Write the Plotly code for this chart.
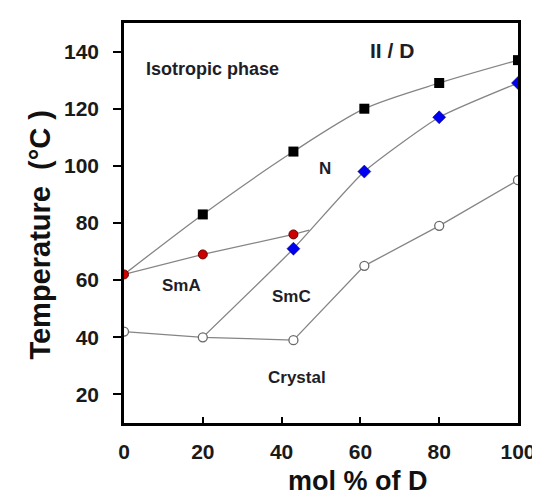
import plotly.graph_objects as go

# ---- data ----
mol_iso = [20, 43, 61, 80, 100]           # isotropic / nematic transition (black squares)
temp_iso = [83, 105, 120, 129, 137]

mol_sma = [0, 20, 43]                      # SmA transition (red circles)
temp_sma = [62, 69, 76]
sma_end_x, sma_end_y = 47, 77.5            # where the SmA boundary meets the SmC boundary

mol_smc = [43, 61, 80, 100]                # SmC / N transition (blue diamonds)
temp_smc = [71, 98, 117, 129]

mol_melt = [0, 20, 43, 61, 80, 100]        # melting (open circles)
temp_melt = [42, 40, 39, 65, 79, 95]

x_ticks = [0, 20, 40, 60, 80, 100]
y_ticks = [20, 40, 60, 80, 100, 120, 140]

FONT = "Liberation Sans, Arial, sans-serif"
LINE = dict(color="#858585", width=1.3)
TXT = "#1e1e28"

fig = go.Figure()

# boundary lines
fig.add_trace(go.Scatter(x=[mol_sma[0]] + mol_iso, y=[temp_sma[0]] + temp_iso,
                         mode="lines", line=dict(shape="spline", smoothing=0.8, **LINE)))
fig.add_trace(go.Scatter(x=mol_sma + [sma_end_x], y=temp_sma + [sma_end_y],
                         mode="lines", line=LINE))
fig.add_trace(go.Scatter(x=[mol_melt[1]] + mol_smc, y=[temp_melt[1]] + temp_smc,
                         mode="lines", line=dict(shape="spline", smoothing=0.5, **LINE)))
fig.add_trace(go.Scatter(x=mol_melt, y=temp_melt, mode="lines", line=LINE))

# markers
fig.add_trace(go.Scatter(x=mol_melt, y=temp_melt, mode="markers",
                         marker=dict(symbol="circle", size=9, color="white",
                                     line=dict(color="#6a6a6a", width=1.3))))
fig.add_trace(go.Scatter(x=mol_iso, y=temp_iso, mode="markers",
                         marker=dict(symbol="square", size=10, color="black",
                                     line=dict(width=0))))
fig.add_trace(go.Scatter(x=mol_smc, y=temp_smc, mode="markers",
                         marker=dict(symbol="diamond", size=10, color="#0000ee",
                                     line=dict(color="#000066", width=0.5))))
fig.add_trace(go.Scatter(x=mol_sma, y=temp_sma, mode="markers",
                         marker=dict(symbol="circle", size=9, color="#cc0000",
                                     line=dict(color="#660000", width=1))))

labels = [
    ("Isotropic phase", 22.5, 134, 18),
    ("II / D", 68, 140.5, 21),
    ("N", 51, 99, 17),
    ("SmA", 14.5, 58.3, 17),
    ("SmC", 42.5, 54.3, 17),
    ("Crystal", 44, 26, 17),
]
for t, x, y, s in labels:
    fig.add_annotation(x=x, y=y, text=t, showarrow=False, xref="x", yref="y",
                       font=dict(family=FONT, size=s, color=TXT, weight="bold"))

fig.add_annotation(text="Temperature  (°C )", textangle=-90, showarrow=False,
                   xref="paper", yref="paper", x=(30 - 116) / 404, y=(415 - 226) / 401,
                   xanchor="center", yanchor="middle",
                   font=dict(family=FONT, size=29, color="#111111", weight="bold"))
fig.add_annotation(text="mol % of D", showarrow=False,
                   xref="paper", yref="paper", x=(356 - 116) / 404, y=-(473 - 415) / 401,
                   xanchor="center", yanchor="middle",
                   font=dict(family=FONT, size=27, color="#111111", weight="bold"))

fig.update_xaxes(range=[0, 100], tickvals=x_ticks, ticks="inside", ticklen=6, tickwidth=2,
                 tickcolor="black", showline=True, linecolor="black", linewidth=2.5,
                 mirror=True, showgrid=False, zeroline=False, ticklabelstandoff=8,
                 tickfont=dict(family=FONT, size=21, color="#1a1a1a", weight="bold"))
fig.update_yaxes(range=[10, 150], tickvals=y_ticks, ticks="outside", ticklen=8, tickwidth=2,
                 tickcolor="black", showline=True, linecolor="black", linewidth=2.5,
                 mirror=True, showgrid=False, zeroline=False, ticklabelstandoff=10,
                 tickfont=dict(family=FONT, size=21, color="#1a1a1a", weight="bold"))

fig.update_layout(width=540, height=499, showlegend=False,
                  margin=dict(l=116, r=20, t=14, b=84),
                  plot_bgcolor="white", paper_bgcolor="white")

fig.write_html("out.html")
